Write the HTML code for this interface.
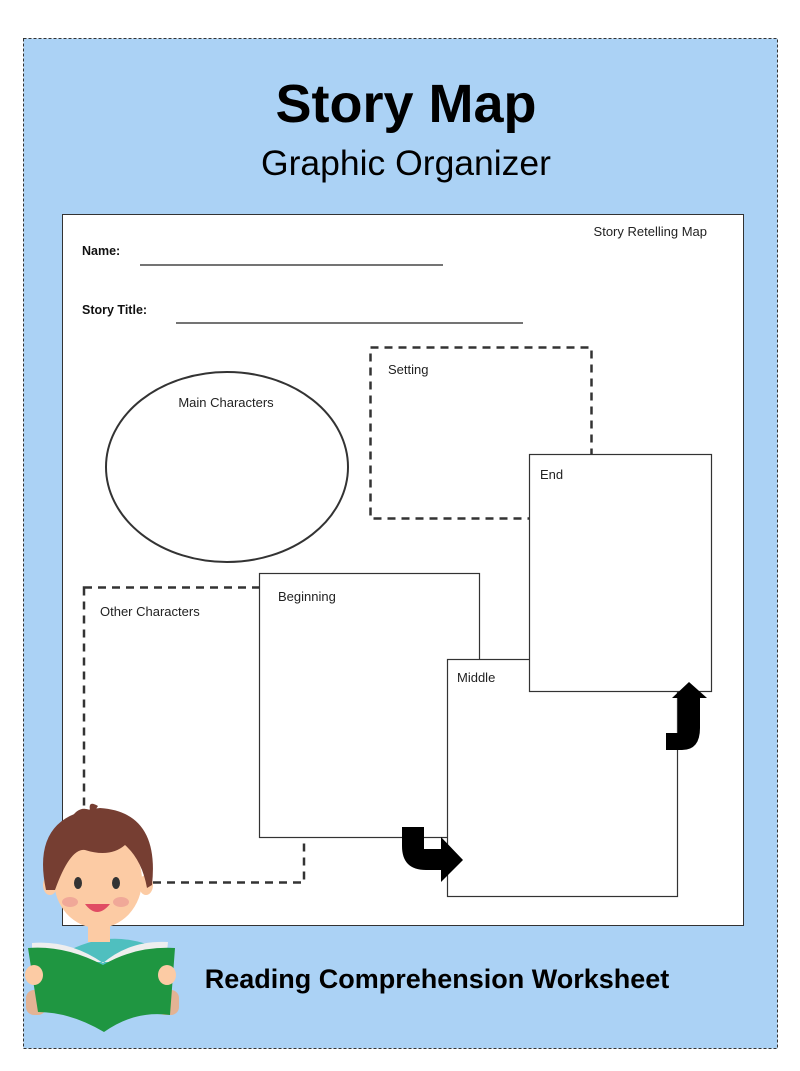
<!DOCTYPE html>
<html><head><meta charset="utf-8">
<style>
html,body{margin:0;padding:0;background:#fff;width:800px;height:1071px;overflow:hidden}
svg{display:block}
text{font-family:"Liberation Sans","DejaVu Sans",sans-serif}
</style></head>
<body>
<svg width="800" height="1071" viewBox="0 0 800 1071" xmlns="http://www.w3.org/2000/svg">
<rect x="23.5" y="38.5" width="754" height="1010" fill="#abd2f5" stroke="#333" stroke-width="1" stroke-dasharray="3,2"/>
<text x="406" y="122" text-anchor="middle" font-size="54" font-weight="bold" fill="#000">Story Map</text>
<text x="406" y="175" text-anchor="middle" font-size="35.5" fill="#000">Graphic Organizer</text>
<rect x="62.5" y="214.5" width="681" height="711" fill="#fff" stroke="#333" stroke-width="1"/>
<text x="707" y="236" text-anchor="end" font-size="13" fill="#222">Story Retelling Map</text>
<text x="82" y="255" font-size="12.5" font-weight="bold" fill="#111">Name:</text>
<line x1="140" y1="265" x2="443" y2="265" stroke="#222" stroke-width="1.2"/>
<text x="82" y="314" font-size="12.5" font-weight="bold" fill="#111">Story Title:</text>
<line x1="176" y1="323" x2="523" y2="323" stroke="#222" stroke-width="1.2"/>
<ellipse cx="227" cy="467" rx="121" ry="95" fill="#fff" stroke="#333" stroke-width="2"/>
<text x="226" y="407" text-anchor="middle" font-size="13" fill="#222">Main Characters</text>
<rect x="370.5" y="347.5" width="221" height="171" fill="#fff" stroke="#333" stroke-width="2.5" stroke-dasharray="8,6"/>
<text x="388" y="374" font-size="13" fill="#222">Setting</text>
<rect x="84" y="587.5" width="220" height="295" fill="#fff" stroke="#333" stroke-width="2.5" stroke-dasharray="8,6"/>
<text x="100" y="616" font-size="13" fill="#222">Other Characters</text>
<rect x="259.5" y="573.5" width="220" height="264" fill="#fff" stroke="#333" stroke-width="1.2"/>
<text x="278" y="601" font-size="13" fill="#222">Beginning</text>
<rect x="447.5" y="659.5" width="230" height="237" fill="#fff" stroke="#333" stroke-width="1.2"/>
<text x="457" y="682" font-size="13" fill="#222">Middle</text>
<rect x="529.5" y="454.5" width="182" height="237" fill="#fff" stroke="#333" stroke-width="1.2"/>
<text x="540" y="479" font-size="13" fill="#222">End</text>
<path d="M402 827 H424 V849 H441 V837 L463 860 L441 882 V870 H426 Q402 870 402 846 Z" fill="#000"/>
<path d="M666 750 H682 Q700 750 700 728 V698 H707 L689 682 L672 698 H678 V733 H666 Z" fill="#000"/>
<g>
<path d="M70 950 Q100 935 130 940 Q160 945 170 960 L170 990 L70 990 Z" fill="#4fbfbf"/>
<rect x="88" y="920" width="22" height="22" fill="#fccba4"/>
<ellipse cx="98" cy="880" rx="44" ry="48" fill="#fccba4"/>
<ellipse cx="50" cy="885" rx="7" ry="10" fill="#fccba4"/>
<ellipse cx="146" cy="885" rx="7" ry="10" fill="#fccba4"/>
<path d="M46 890 Q30 815 100 808 Q160 812 152 885 L147 888 Q142 860 125 845 Q110 858 85 850 Q70 848 55 890 Z" fill="#763e32"/>
<path d="M70 820 Q78 805 90 810 Q88 800 98 806 Q92 815 90 818 Z" fill="#763e32"/>
<ellipse cx="78" cy="883" rx="4" ry="6" fill="#333"/>
<ellipse cx="116" cy="883" rx="4" ry="6" fill="#333"/>
<ellipse cx="70" cy="902" rx="8" ry="5" fill="#f0a898"/>
<ellipse cx="121" cy="902" rx="8" ry="5" fill="#f0a898"/>
<path d="M85 904 Q97 920 110 904 Z" fill="#e04c63"/>
<rect x="26" y="990" width="20" height="25" rx="8" fill="#e3b394"/>
<rect x="157" y="990" width="22" height="25" rx="8" fill="#e3b394"/>
<path d="M32 943 Q70 940 103 963 Q130 940 168 942 L166 962 L32 962 Z" fill="#eee"/>
<path d="M28 948 Q65 945 103 965 Q135 946 175 948 L170 1015 Q135 1010 104 1032 Q70 1012 38 1012 Z" fill="#1f9641"/>
<ellipse cx="34" cy="975" rx="9" ry="10" fill="#fccba4"/>
<ellipse cx="167" cy="975" rx="9" ry="10" fill="#fccba4"/>
</g>
<text x="437" y="988" text-anchor="middle" font-size="27" font-weight="bold" fill="#000">Reading Comprehension Worksheet</text>
</svg>
</body></html>
